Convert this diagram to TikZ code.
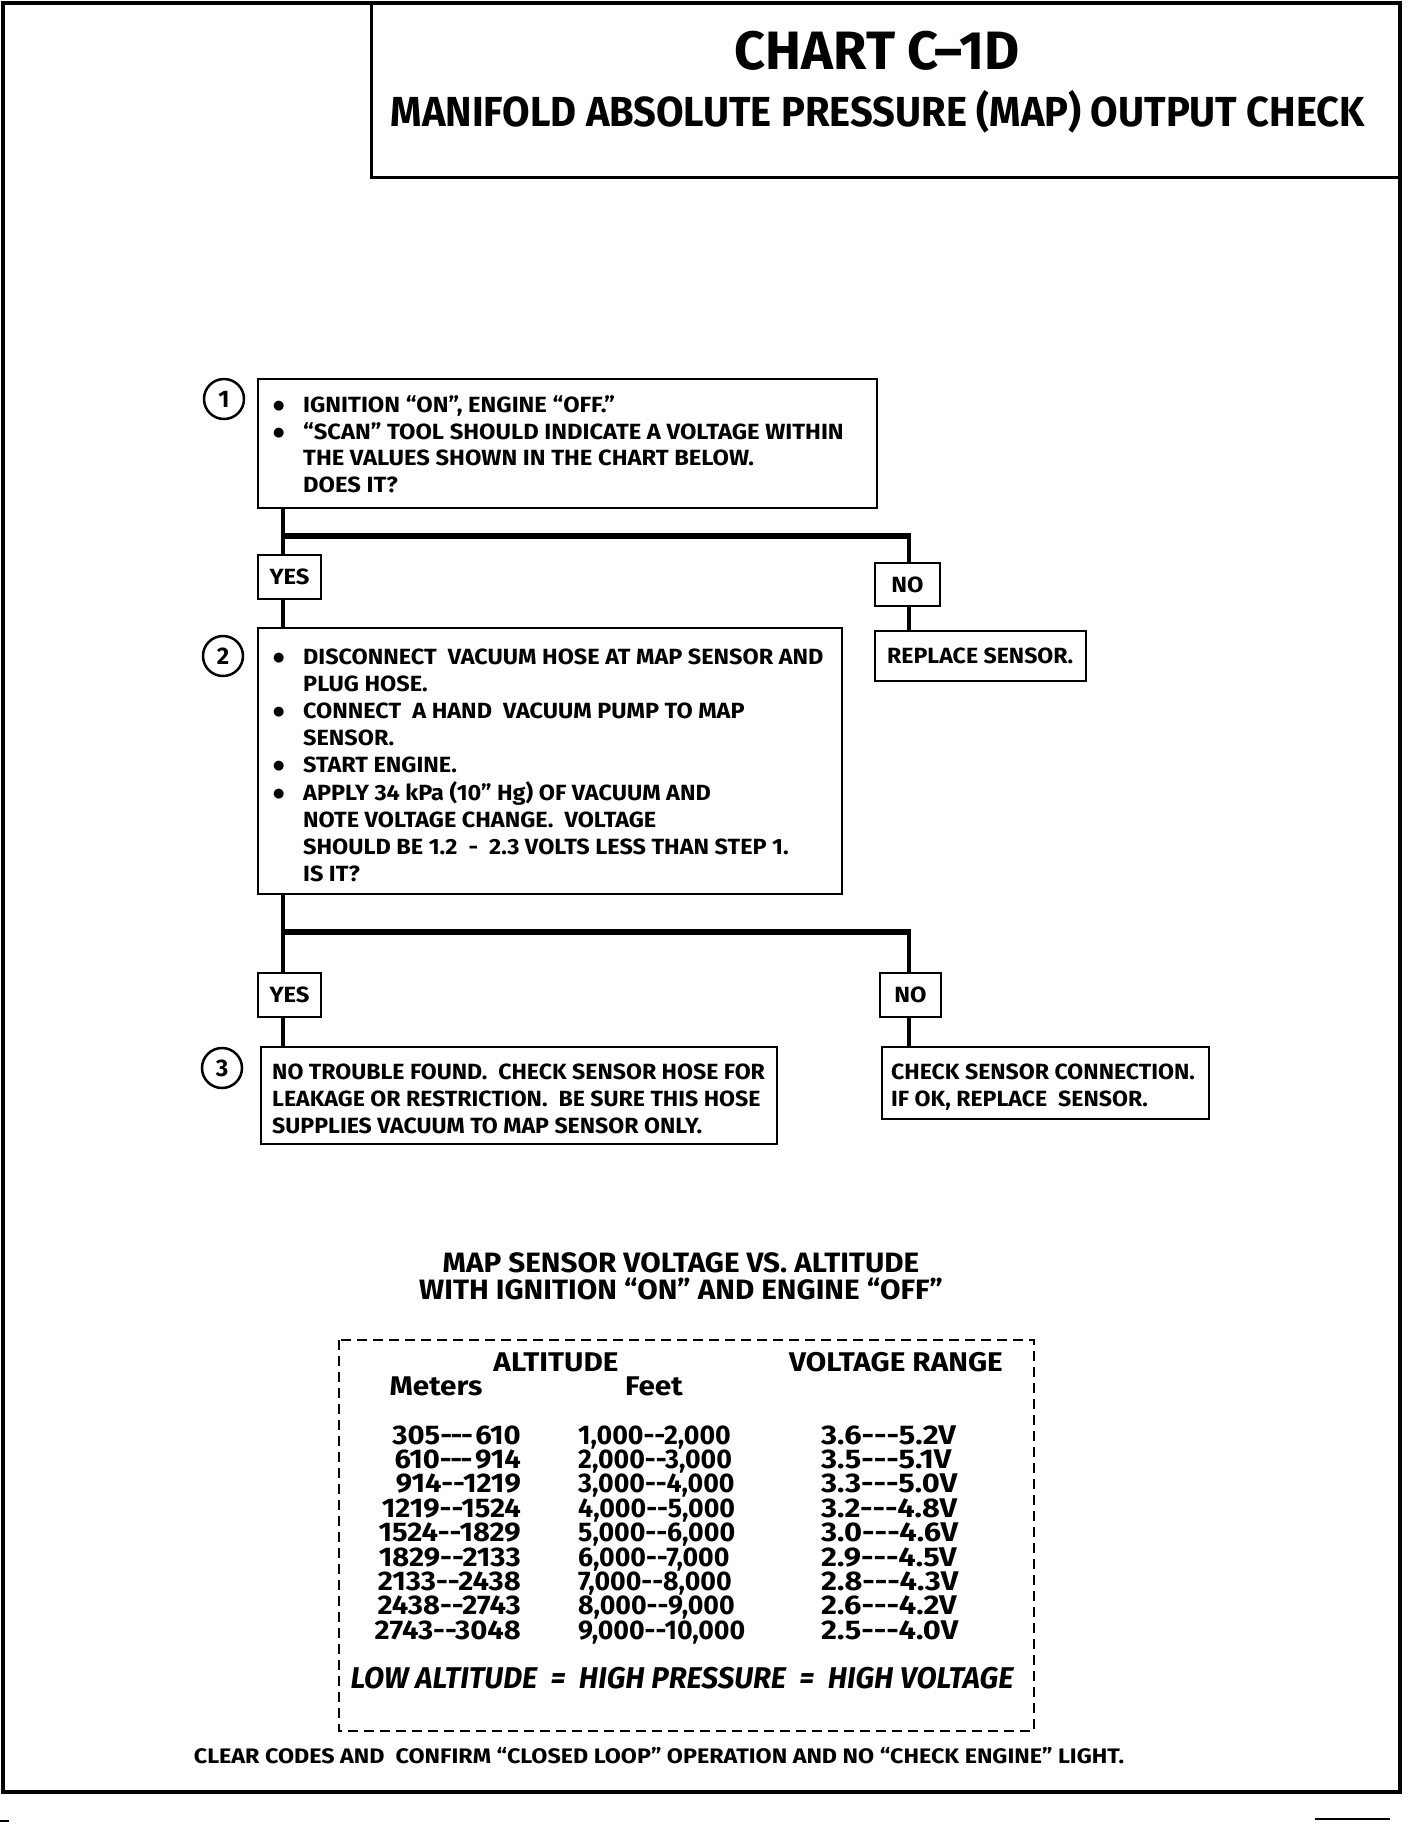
\documentclass[tikz,border=0pt]{standalone}
\usepackage{fontspec}
\setmainfont{Fira Sans}[Ligatures=TeXOff]
\newfontfamily\fntBox{Fira Sans}[FakeStretch=1.08, Ligatures=TeXOff]
\newfontfamily\fntBoxM{Fira Sans}[FakeStretch=1.065, Ligatures=TeXOff]
\newfontfamily\fntBoxB{Fira Sans}[FakeStretch=1.05, Ligatures=TeXOff]
\newfontfamily\fntTitle{Fira Sans}[FakeStretch=1.0, Ligatures=TeXOff]
\newfontfamily\fntSub{Fira Sans}[FakeStretch=0.95, Ligatures=TeXOff]
\newfontfamily\fntTT{Fira Sans}[FakeStretch=1.06, Ligatures=TeXOff]
\newfontfamily\fntHead{Fira Sans}[FakeStretch=1.1, Ligatures=TeXOff]
\newfontfamily\fntMet{Fira Sans}[FakeStretch=1.08, Ligatures=TeXOff]
\newfontfamily\fntFt{Fira Sans}[FakeStretch=0.99, Ligatures=TeXOff]
\newfontfamily\fntV{Fira Sans}[FakeStretch=1.14, Ligatures=TeXOff]
\newfontfamily\fntLow{Fira Sans}[FakeStretch=0.98, Ligatures=TeXOff]
\newfontfamily\fntFoot{Fira Sans}[FakeStretch=1.11, Ligatures=TeXOff]
\newfontfamily\fntDV{DejaVu Sans}
\newcommand\bul{\raisebox{3pt}{\fntDV\fontsize{13}{13}\selectfont ●}}
\newcommand\hA{-\kern-1.5pt}
\newcommand\vlinesl[2]{\vtop{\baselineskip=#1 \lineskiplimit=-1000pt \lineskip=0pt \halign{##\hfil\cr#2\crcr}}}
\newcommand\vlinesr[2]{\vtop{\baselineskip=#1 \lineskiplimit=-1000pt \lineskip=0pt \halign{\hfil##\cr#2\crcr}}}
\newcommand\vlinesc[2]{\vtop{\baselineskip=#1 \lineskiplimit=-1000pt \lineskip=0pt \halign{\hfil##\hfil\cr#2\crcr}}}
\newcommand\blines[2]{\vtop{\baselineskip=#1 \lineskiplimit=-1000pt \lineskip=0pt \halign{\hbox to 30pt{##\hfil}&##\hfil\cr#2\crcr}}}
\begin{document}
\begin{tikzpicture}[x=1pt,y=-1pt,
  box/.style={draw, line width=2.5pt, inner sep=0pt},
  conn/.style={line width=4pt},
  bar/.style={line width=6.5pt},
  txt/.style={inner sep=0pt, font=\fntBox\fontsize{22}{27}\selectfont\bfseries},
  txtm/.style={inner sep=0pt, font=\fntBoxM\fontsize{22}{27}\selectfont\bfseries},
  txtb/.style={inner sep=0pt, font=\fntBoxB\fontsize{22}{27}\selectfont\bfseries},
  lbl/.style={inner sep=0pt, font=\fntBox\fontsize{22}{27}\selectfont\bfseries},
  num/.style={draw, circle, line width=2.5pt, minimum size=40pt, inner sep=0pt, font=\fontsize{24}{24}\selectfont\bfseries},
  tbl/.style={inner sep=0pt, font=\fontsize{27}{24.4}\selectfont\bfseries},
]
\useasboundingbox (0,0) rectangle (1408,1824);
\fill[white] (0,0) rectangle (1408,1824);
% frame and title box
\draw[line width=4pt] (3,3) rectangle (1400,1792);
\draw[line width=3pt] (371,3) rectangle (1400,177);
\node[inner sep=0pt, anchor=base, font=\fntTitle\fontsize{54}{54}\selectfont\bfseries] (title) at (877,69.5) {CHART C–1D};
\node[inner sep=0pt, anchor=base, font=\fntSub\fontsize{42}{42}\selectfont\bfseries] (subtitle) at (878,126) {MANIFOLD ABSOLUTE PRESSURE (MAP) OUTPUT CHECK};
% step 1
\node[num] (c1) at (224,399) {1};
\node[box, minimum width=619pt, minimum height=129pt] (b1) at (567.5,443.5) {};
\node[txt, anchor=base west] (t1) at (273,412.5) {\blines{26.7pt}{%
\bul & IGNITION “ON”, ENGINE “OFF.”\cr
\bul & “SCAN” TOOL SHOULD INDICATE A VOLTAGE WITHIN\cr
 & THE VALUES SHOWN IN THE CHART BELOW.\cr
 & DOES IT?}};
\node[box, minimum width=63pt, minimum height=44pt] (yes1) at (289.5,577) {};
\node[lbl] (yes1t) at (yes1) {YES};
\node[box, minimum width=65pt, minimum height=43pt] (no1) at (907.5,584.5) {};
\node[lbl] (no1t) at (no1) {NO};
% step 2
\node[num] (c2) at (223,656) {2};
\node[box, minimum width=584pt, minimum height=266pt] (b2) at (550,761) {};
\node[txtm, anchor=base west] (t2) at (273,664.5) {\blines{27.1pt}{%
\bul & DISCONNECT \ VACUUM HOSE AT MAP SENSOR AND\cr
 & PLUG HOSE.\cr
\bul & CONNECT \ A HAND \ VACUUM PUMP TO MAP\cr
 & SENSOR.\cr
\bul & START ENGINE.\cr
\bul & APPLY 34 kPa (10” Hg) OF VACUUM AND\cr
 & NOTE VOLTAGE CHANGE. \ VOLTAGE\cr
 & SHOULD BE 1.2 \ - \ 2.3 VOLTS LESS THAN STEP 1.\cr
 & IS IT?}};
\node[box, minimum width=211pt, minimum height=50pt] (rep) at (980.5,656) {};
\node[txtb, anchor=base west] (rept) at (887,663.5) {REPLACE SENSOR.};
\node[box, minimum width=63pt, minimum height=44pt] (yes2) at (289.5,995) {};
\node[lbl] (yes2t) at (yes2) {YES};
\node[box, minimum width=61pt, minimum height=44pt] (no2) at (910.5,995) {};
\node[lbl] (no2t) at (no2) {NO};
% step 3
\node[num] (c3) at (222,1068) {3};
\node[box, minimum width=516pt, minimum height=97pt] (b3) at (519,1095.5) {};
\node[txtb, anchor=base west] (t3) at (272,1079.5) {\vlinesl{27pt}{%
NO TROUBLE FOUND. \ CHECK SENSOR HOSE FOR\cr
LEAKAGE OR RESTRICTION. \ BE SURE THIS HOSE\cr
SUPPLIES VACUUM TO MAP SENSOR ONLY.}};
\node[box, minimum width=327pt, minimum height=72pt] (chk) at (1045.5,1083) {};
\node[txtb, anchor=base west] (chkt) at (891,1079.5) {\vlinesl{27pt}{%
CHECK SENSOR CONNECTION.\cr
IF OK, REPLACE \ SENSOR.}};
% connectors
\coordinate (j1) at (283,536);
\coordinate (j1r) at (909,536);
\coordinate (j2) at (283,932);
\coordinate (j2r) at (909,932);
\draw[conn] (b1.south -| j1) -- (yes1.north -| j1);
\draw[bar] ([xshift=-2pt]j1) -- ([xshift=2pt]j1r);
\draw[conn] (j1r) -- (no1.north -| j1r);
\draw[conn] (yes1.south -| j1) -- (b2.north -| j1);
\draw[conn] (no1.south -| j1r) -- (rep.north -| j1r);
\draw[conn] (b2.south -| j2) -- (yes2.north -| j2);
\draw[bar] ([xshift=-2pt]j2) -- ([xshift=2pt]j2r);
\draw[conn] (j2r) -- (no2.north -| j2r);
\draw[conn] (yes2.south -| j2) -- (b3.north -| j2);
\draw[conn] (no2.south -| j2r) -- (chk.north -| j2r);
% table
\node[inner sep=0pt, anchor=base, font=\fntTT\fontsize{28}{27}\selectfont\bfseries] (tt) at (681,1272) {\vlinesc{27pt}{%
MAP SENSOR VOLTAGE VS. ALTITUDE\cr WITH IGNITION “ON” AND ENGINE “OFF”}};
\draw[line width=2pt, dash pattern=on 10pt off 6pt] (339,1340) rectangle (1034,1731);
\node[tbl, anchor=base, font=\fntHead\fontsize{27}{24.4}\selectfont\bfseries] (alt) at (556,1371) {ALTITUDE};
\node[tbl, anchor=base, font=\fntHead\fontsize{27}{24.4}\selectfont\bfseries] (vr) at (896,1371) {VOLTAGE RANGE};
\node[tbl, anchor=base, font=\fntHead\fontsize{27}{24.4}\selectfont\bfseries] (met) at (436,1395) {Meters};
\node[tbl, anchor=base, font=\fntHead\fontsize{27}{24.4}\selectfont\bfseries] (ft) at (654,1395) {Feet};
\node[tbl, anchor=base east, font=\fntMet\fontsize{27}{24.4}\selectfont\bfseries] (colm) at (521,1444) {\vlinesr{24.4pt}{%
305\hA\hA\hA\kern4pt 610\cr 610\hA\hA\hA\kern4pt 914\cr 914--1219\cr 1219--1524\cr 1524--1829\cr 1829--2133\cr 2133--2438\cr 2438--2743\cr 2743--3048}};
\node[tbl, anchor=base west, font=\fntFt\fontsize{27}{24.4}\selectfont\bfseries] (colf) at (578,1444) {\vlinesl{24.4pt}{%
1,000--2,000\cr 2,000--3,000\cr 3,000--4,000\cr 4,000--5,000\cr 5,000--6,000\cr 6,000--7,000\cr 7,000--8,000\cr 8,000--9,000\cr 9,000--10,000}};
\node[tbl, anchor=base west, font=\fntV\fontsize{27}{24.4}\selectfont\bfseries] (colv) at (821,1444) {\vlinesl{24.4pt}{%
3.6---5.2V\cr 3.5---5.1V\cr 3.3---5.0V\cr 3.2---4.8V\cr 3.0---4.6V\cr 2.9---4.5V\cr 2.8---4.3V\cr 2.6---4.2V\cr 2.5---4.0V}};
\node[inner sep=0pt, anchor=base, font=\fntLow\fontsize{30}{30}\selectfont\bfseries\itshape] (low) at (682,1688.5) {LOW ALTITUDE \ = \ HIGH PRESSURE \ = \ HIGH VOLTAGE};
\node[inner sep=0pt, anchor=base, font=\fntFoot\fontsize{21}{21}\selectfont\bfseries] (foot) at (659,1763.5) {CLEAR CODES AND \ CONFIRM “CLOSED LOOP” OPERATION AND NO “CHECK ENGINE” LIGHT.};
% stray marks below frame
\draw[line width=1.5pt] (0,1821) -- (9,1821);
\draw[line width=1.5pt] (1315,1819) -- (1390,1819);
\end{tikzpicture}
\end{document}
